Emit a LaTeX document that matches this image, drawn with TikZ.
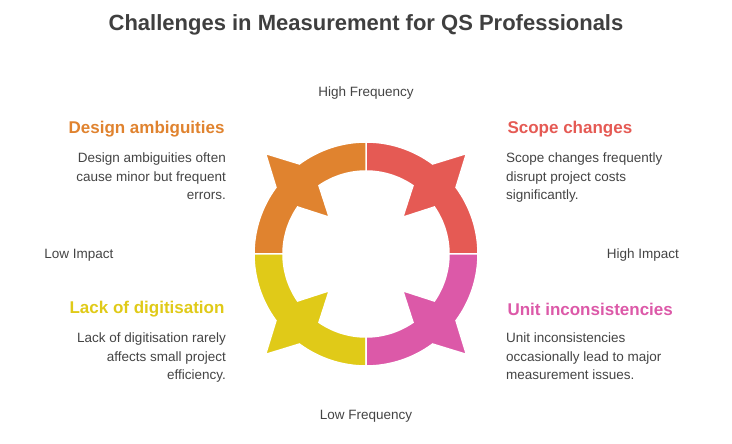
\documentclass[tikz,border=0pt]{standalone}
\usepackage{fontspec}
\setmainfont{Liberation Sans}
\definecolor{cor}{HTML}{E0832F}
\definecolor{cre}{HTML}{E55A54}
\definecolor{cpk}{HTML}{DC59A8}
\definecolor{cye}{HTML}{E0CA18}
\definecolor{ctx}{HTML}{444444}
\definecolor{cti}{HTML}{3F3F3F}
\begin{document}
\begin{tikzpicture}[x=1pt,y=1pt,
  title/.style={font=\fontsize{22}{26}\selectfont\bfseries, text=cti},
  head/.style={font=\fontsize{17}{20}\selectfont\bfseries},
  body/.style={font=\fontsize{13.5}{18.5}\selectfont, text=ctx, align=#1, inner sep=0},
  axis/.style={font=\fontsize{13.5}{16}\selectfont, text=ctx},
  seg/.style={fill=#1, draw=white, line width=1.5pt, line join=miter}]
\useasboundingbox (0,0) rectangle (732,444);
\node[title] (t) at (366,419) {Challenges in Measurement for QS Professionals};
\coordinate (c) at (366,190);
\foreach \s/\col in {0/cre,90/cor,180/cye,270/cpk}{
  \pgfmathsetmacro{\m}{\s+45}
  \path[seg=\col, shift={(c)}]
    (\s:112) arc[start angle=\s,end angle=\m-8.5,radius=112] -- (\m:142)
    -- (\m+8.5:112) arc[start angle=\m+8.5,end angle=\s+90,radius=112]
    -- (\s+90:83) arc[start angle=\s+90,end angle=\m+10.5,radius=83]
    -- (\m:52) -- (\m-10.5:83) arc[start angle=\m-10.5,end angle=\s,radius=83] -- cycle;
}
\node[axis] (hf) at (366,351) {High Frequency};
\node[axis] (lf) at (366,28) {Low Frequency};
\node[axis] (li) at (79,189) {Low Impact};
\node[axis] (hi) at (643,189) {High Impact};
\node[head, text=cor, anchor=east] (h1) at (228,315) {Design ambiguities};
\node[body=right, anchor=north east] (b1) at (226,291) {Design ambiguities often\\cause minor but frequent\\errors.};
\node[head, text=cre, anchor=west] (h2) at (504,315) {Scope changes};
\node[body=left, anchor=north west] (b2) at (506,291) {Scope changes frequently\\disrupt project costs\\significantly.};
\node[head, text=cye, anchor=east] (h3) at (228,135) {Lack of digitisation};
\node[body=right, anchor=north east] (b3) at (226,111) {Lack of digitisation rarely\\affects small project\\efficiency.};
\node[head, text=cpk, anchor=west] (h4) at (504,135) {Unit inconsistencies};
\node[body=left, anchor=north west] (b4) at (506,111) {Unit inconsistencies\\occasionally lead to major\\measurement issues.};
\end{tikzpicture}
\end{document}
